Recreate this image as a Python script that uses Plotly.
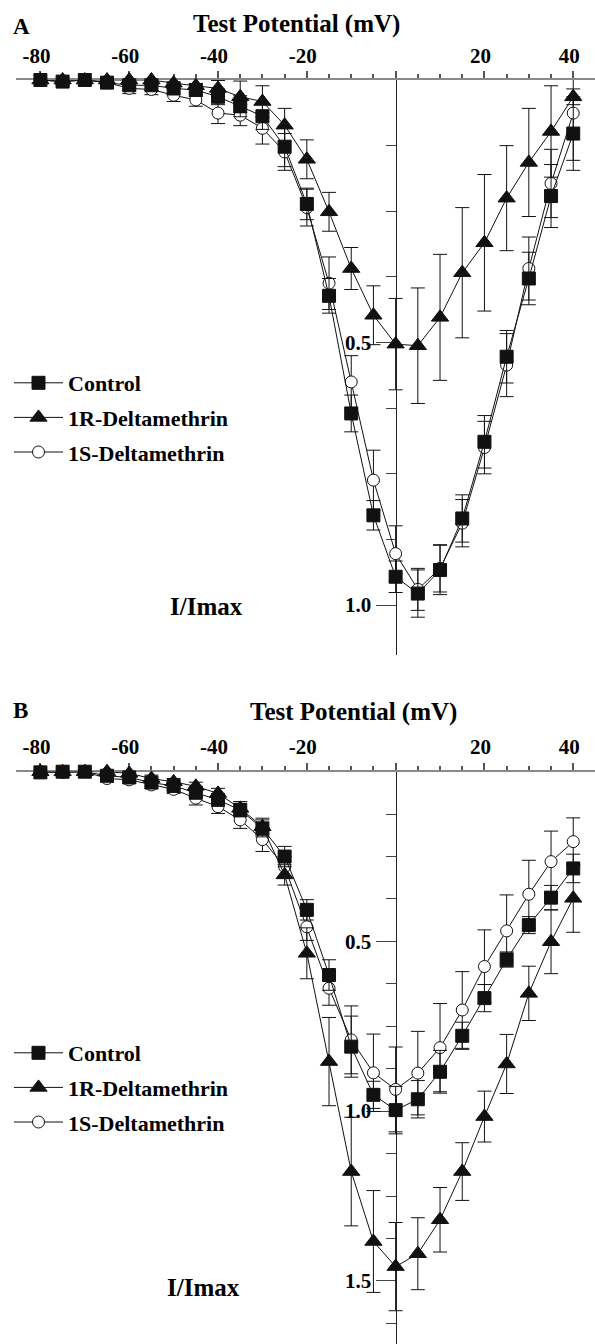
import plotly.graph_objects as go

# ---------------- data ----------------
voltage = [-80, -75, -70, -65, -60, -55, -50, -45, -40, -35, -30, -25, -20,
           -15, -10, -5, 0, 5, 10, 15, 20, 25, 30, 35, 40]

# Panel A
a_control = [0.0, 0.003, 0.0, 0.005, 0.01, 0.01, 0.016, 0.019, 0.032, 0.05, 0.069, 0.127, 0.236,
             0.411, 0.635, 0.829, 0.946, 0.978, 0.933, 0.835, 0.689, 0.527, 0.378, 0.221, 0.102]
a_control_err = [0.005, 0.008, 0.008, 0.01, 0.01, 0.01, 0.012, 0.012, 0.015, 0.02, 0.025, 0.038, 0.03,
                 0.033, 0.035, 0.028, 0.03, 0.045, 0.047, 0.045, 0.05, 0.05, 0.05, 0.06, 0.07]
a_r = [0.0, 0.0, 0.0, 0.0, 0.0, 0.0, 0.006, 0.011, 0.016, 0.032, 0.041, 0.086, 0.151,
       0.251, 0.359, 0.448, 0.503, 0.506, 0.452, 0.367, 0.31, 0.225, 0.157, 0.098, 0.032]
a_r_err = [0.005, 0.005, 0.005, 0.008, 0.01, 0.01, 0.01, 0.012, 0.015, 0.03, 0.03, 0.032, 0.037,
           0.037, 0.04, 0.056, 0.087, 0.11, 0.12, 0.124, 0.13, 0.1, 0.103, 0.087, 0.015]
a_s = [0.0, 0.003, 0.0, 0.005, 0.016, 0.018, 0.029, 0.038, 0.063, 0.067, 0.092, 0.137, 0.243,
       0.387, 0.575, 0.762, 0.902, 0.97, 0.93, 0.844, 0.70, 0.543, 0.359, 0.197, 0.063]
a_s_err = [0.005, 0.005, 0.005, 0.008, 0.01, 0.01, 0.012, 0.012, 0.02, 0.02, 0.03, 0.035, 0.035,
           0.05, 0.05, 0.057, 0.053, 0.04, 0.045, 0.045, 0.05, 0.06, 0.06, 0.065, 0.09]

# Panel B
b_control = [0.002, 0.0, 0.0, 0.012, 0.017, 0.032, 0.042, 0.062, 0.083, 0.113, 0.167, 0.25, 0.407,
             0.599, 0.81, 0.952, 0.997, 0.965, 0.884, 0.778, 0.667, 0.553, 0.452, 0.371, 0.285]
b_control_err = [0.005, 0.005, 0.005, 0.01, 0.01, 0.01, 0.01, 0.012, 0.015, 0.02, 0.025, 0.03, 0.03,
                 0.045, 0.09, 0.04, 0.07, 0.055, 0.063, 0.04, 0.04, 0.022, 0.025, 0.036, 0.042]
b_r = [0.0, 0.0, 0.0, 0.0, 0.005, 0.02, 0.03, 0.043, 0.064, 0.108, 0.162, 0.304, 0.535,
       0.854, 1.178, 1.384, 1.458, 1.42, 1.32, 1.178, 1.016, 0.861, 0.653, 0.501, 0.373]
b_r_err = [0.005, 0.005, 0.005, 0.008, 0.01, 0.01, 0.01, 0.012, 0.015, 0.02, 0.025, 0.03, 0.075,
           0.13, 0.16, 0.15, 0.13, 0.106, 0.095, 0.085, 0.075, 0.087, 0.08, 0.094, 0.1]
b_s = [0.0, 0.002, 0.0, 0.02, 0.024, 0.039, 0.052, 0.078, 0.103, 0.142, 0.2, 0.28, 0.457,
       0.638, 0.79, 0.887, 0.936, 0.888, 0.813, 0.702, 0.574, 0.469, 0.361, 0.265, 0.206]
b_s_err = [0.005, 0.005, 0.005, 0.01, 0.01, 0.01, 0.012, 0.02, 0.02, 0.025, 0.035, 0.03, 0.04,
           0.05, 0.1, 0.114, 0.125, 0.123, 0.13, 0.113, 0.108, 0.106, 0.1, 0.09, 0.07]

series_names = ["Control", "1R-Deltamethrin", "1S-Deltamethrin"]
x_tickvals = [-80, -60, -40, -20, 0, 20, 40]
x_ticktext = ["-80", "-60", "-40", "-20", "", "20", "40"]
x_minor = [-75, -70, -65, -55, -50, -45, -35, -30, -25, -15, -10, -5, 5, 10, 15, 25, 30, 35]
a_y_tickvals = [0.5, 1.0]
a_y_ticktext = ["0.5", "1.0"]
b_y_tickvals = [0.5, 1.0, 1.5]
b_y_ticktext = ["0.5", "1.0", "1.5"]
a_y_minor = [0.125, 0.25, 0.375, 0.625, 0.75, 0.875]
b_y_minor = [0.125, 0.25, 0.375, 0.625, 0.75, 0.875, 1.125, 1.25, 1.375, 1.625]

# ---------------- layout constants ----------------
W, H = 595, 1344
FONT = "Liberation Serif"
x_dom = [16 / W, 1.0]
x_range = [-85.5, 44.9]
zero_frac = x_dom[0] + (0 - x_range[0]) / (x_range[1] - x_range[0]) * (x_dom[1] - x_dom[0])

fig = go.Figure()


def add_panel(xa, ya, legend, ctrl, ctrl_e, r, r_e, s, s_e):
    specs = [
        (series_names[2], s, s_e, "circle", "white", 12, 3),
        (series_names[1], r, r_e, "triangle-up", "#111111", 15, 2),
        (series_names[0], ctrl, ctrl_e, "square", "#111111", 13, 1),
    ]
    for name, yv, ev, sym, fill, size, rank in specs:
        fig.add_trace(go.Scatter(
            x=voltage, y=yv, xaxis=xa, yaxis=ya, name=name,
            mode="lines+markers", cliponaxis=False,
            line=dict(color="#111111", width=1),
            marker=dict(symbol=sym, size=size, color=fill,
                        line=dict(color="#111111", width=1)),
            error_y=dict(type="data", array=ev, visible=True,
                         color="#111111", thickness=1, width=7),
            legend=legend, legendrank=rank, legendgroup=legend + name,
        ))


add_panel("x", "y", "legend", a_control, a_control_err, a_r, a_r_err, a_s, a_s_err)
add_panel("x2", "y2", "legend2", b_control, b_control_err, b_r, b_r_err, b_s, b_s_err)

tickfont = dict(family=FONT, size=21, color="black", weight="bold")


def xaxis_cfg(anchor):
    return dict(domain=x_dom, range=x_range, anchor=anchor, side="top",
                showline=True, linecolor="#8a8a8a", linewidth=2,
                showgrid=False, zeroline=False, layer="below traces",
                tickmode="array", tickvals=x_tickvals, ticktext=x_ticktext,
                ticks="outside", ticklen=7, tickwidth=1.5, tickcolor="#555555",
                minor=dict(tickmode="array", tickvals=x_minor, ticks="outside",
                           ticklen=4, tickwidth=1.5, tickcolor="#555555"),
                tickfont=tickfont, ticklabelstandoff=0, ticklabelshift=-4)


def yaxis_cfg(dom, rng, tv, tt, minor):
    return dict(domain=dom, range=rng, anchor="free", position=zero_frac, side="left",
                showline=True, linecolor="#222222", linewidth=1.2,
                showgrid=False, zeroline=False, layer="below traces",
                tickmode="array", tickvals=tv, ticktext=tt,
                ticks="outside", ticklen=20, tickwidth=1.2, tickcolor="#444444",
                minor=dict(tickmode="array", tickvals=minor, ticks="outside",
                           ticklen=10, tickwidth=1.2, tickcolor="#444444"),
                tickfont=tickfont)


a_top, a_bot = 80, 655
b_top, b_bot = 771.7, 1344

legend_font = dict(family=FONT, size=22, color="black", weight="bold")

fig.update_layout(
    width=W, height=H,
    margin=dict(l=0, r=0, t=0, b=0, pad=0),
    paper_bgcolor="white", plot_bgcolor="white",
    xaxis=xaxis_cfg("y"),
    xaxis2=xaxis_cfg("y2"),
    yaxis=yaxis_cfg([1 - a_bot / H, 1 - a_top / H], [1.095, 0], a_y_tickvals, a_y_ticktext, a_y_minor),
    yaxis2=yaxis_cfg([1 - b_bot / H, 1 - b_top / H], [1.686, 0], b_y_tickvals, b_y_ticktext, b_y_minor),
    legend=dict(x=9 / W, y=1 - 362 / H, xanchor="left", yanchor="top",
                font=legend_font, itemwidth=49, itemsizing="trace",
                traceorder="grouped", tracegroupgap=3, bgcolor="rgba(0,0,0,0)"),
    legend2=dict(x=9 / W, y=1 - 1032 / H, xanchor="left", yanchor="top",
                 font=legend_font, itemwidth=49, itemsizing="trace",
                 traceorder="grouped", tracegroupgap=3, bgcolor="rgba(0,0,0,0)"),
    showlegend=True,
)

ann_font = dict(family=FONT, size=25, color="black", weight="bold")
label_font = dict(family=FONT, size=23, color="black", weight="bold")
annotations = [
    dict(text="A", x=11 / W, y=1 - 26 / H, font=label_font, xanchor="left"),
    dict(text="Test Potential (mV)", x=296.5 / W, y=1 - 24 / H, font=ann_font, xanchor="center"),
    dict(text="I/Imax", x=206 / W, y=1 - 606 / H, font=ann_font, xanchor="center"),
    dict(text="B", x=11 / W, y=1 - 711 / H, font=label_font, xanchor="left"),
    dict(text="Test Potential (mV)", x=353.7 / W, y=1 - 712 / H, font=ann_font, xanchor="center"),
    dict(text="I/Imax", x=203 / W, y=1 - 1287 / H, font=ann_font, xanchor="center"),
]
for a in annotations:
    fig.add_annotation(xref="paper", yref="paper", showarrow=False, yanchor="middle", **a)

fig.write_html("out.html")
